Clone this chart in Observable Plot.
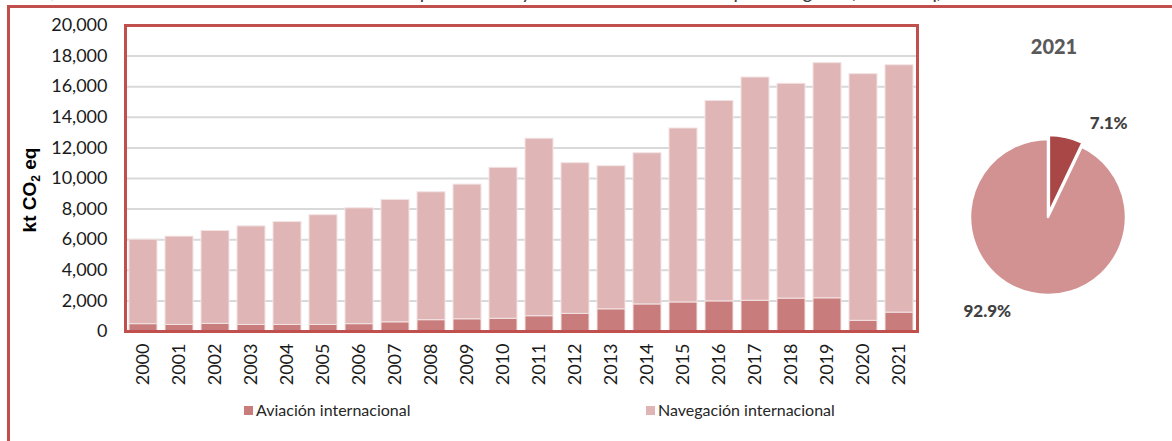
<!DOCTYPE html>
<html><head><meta charset="utf-8">
<script src="https://cdn.jsdelivr.net/npm/d3@7"></script>
<script src="https://cdn.jsdelivr.net/npm/@observablehq/plot@0.6"></script>
<style>
body{margin:0;background:#fff;}
#wrap{position:relative;width:1172px;height:441px;overflow:hidden;font-family:Lato,sans-serif;}
#outer{position:absolute;left:7px;top:5px;width:1300px;height:600px;border-left:3px solid #c0504d;border-top:3px solid #c0504d;}
#title{position:absolute;left:20px;top:-22px;font-style:italic;font-size:20.5px;line-height:24px;color:#404040;white-space:nowrap;}
#bar{position:absolute;left:0;top:0;}
#pie{position:absolute;left:920px;top:0;}
.leg{position:absolute;top:401px;font-size:16px;line-height:18px;color:#262626;display:flex;align-items:center;white-space:nowrap;}
.sw{width:9px;height:9px;margin-right:3px;}
</style></head><body>
<div id="wrap">
  <div id="title">Gráfico 12. Evolución de las emisiones del transporte aéreo y marítimo internacional por categoría (kt CO₂ eq)</div>
  <div id="outer"></div>
  <div id="bar"></div>
  <div id="pie"></div>
  <div id="legend"></div>
</div>
<script>
const years = ["2000","2001","2002","2003","2004","2005","2006","2007","2008","2009","2010","2011","2012","2013","2014","2015","2016","2017","2018","2019","2020","2021"];
const series = ["Aviación internacional", "Navegación internacional"];
const aviacion = [480, 430, 500, 430, 430, 430, 480, 600, 740, 800, 830, 1000, 1150, 1450, 1770, 1900, 1970, 2010, 2150, 2170, 700, 1235];
const navegacion = [5520, 5770, 6070, 6440, 6720, 7170, 7570, 8000, 8360, 8800, 9870, 11600, 9850, 9350, 9880, 11370, 13100, 14590, 14040, 15370, 16120, 16165];
const yTicks = [0, 2000, 4000, 6000, 8000, 10000, 12000, 14000, 16000, 18000, 20000];
const barColors = ["#c97c7c", "#dfb5b5"];
const pieColors = ["#a94646", "#d29292"];
const pieYear = "2021";

const rows = [];
years.forEach((y, i) => rows.push({year: y, serie: series[0], value: aviacion[i]}));
years.forEach((y, i) => rows.push({year: y, serie: series[1], value: navegacion[i]}));

const chart = Plot.plot({
  width: 930, height: 400,
  marginLeft: 125, marginRight: 13, marginTop: 25, marginBottom: 69,
  style: {fontFamily: "Lato, sans-serif", fontSize: "18px", color: "#1a1a1a", background: "transparent"},
  x: {domain: years, paddingInner: 0.22, paddingOuter: 0.11, label: null},
  y: {domain: [0, 20000], label: null},
  color: {domain: series, range: barColors},
  marks: [
    Plot.gridY(yTicks, {stroke: "#d9d9d9", strokeOpacity: 1, strokeWidth: 2}),
    Plot.barY(rows, {x: "year", y: "value", fill: "serie", stroke: "#f3e3e3", strokeWidth: 1}),
    Plot.axisY(yTicks, {tickSize: 0, tickPadding: 18, tickFormat: d3.format(","), label: null}),
    Plot.axisX({tickSize: 0, tickRotate: -90, tickPadding: 12, label: null}),
    Plot.frame({stroke: "#c0504d", strokeWidth: 3})
  ]
});
const svg = d3.select(chart);
const lab = svg.append("text")
  .attr("transform", "translate(36,190) rotate(-90)")
  .attr("text-anchor", "middle")
  .attr("font-family", "Liberation Sans, Arial, sans-serif")
  .attr("font-weight", "bold").attr("font-size", 19).attr("fill", "#000");
lab.append("tspan").text("kt CO");
lab.append("tspan").attr("font-size", 12).attr("dy", 4).text("2");
lab.append("tspan").attr("dy", -4).text(" eq");
document.getElementById("bar").appendChild(chart);

// Pie for the last year
const idx = years.indexOf(pieYear);
const pieData = [{serie: series[0], value: aviacion[idx]}, {serie: series[1], value: navegacion[idx]}];
const total = d3.sum(pieData, d => d.value);
const pieChart = Plot.plot({
  width: 252, height: 441, margin: 0,
  style: {background: "transparent"},
  marks: [
    () => {
      const g = d3.create("svg:g");
      const cx = 128, cy = 217, r = 78;
      const arcs = d3.pie().sort(null).value(d => d.value)(pieData);
      const arc = d3.arc().innerRadius(0).outerRadius(r);
      arcs.forEach((a, i) => {
        const mid = (a.startAngle + a.endAngle) / 2;
        const off = i === 0 ? 4 : 0;
        g.append("path")
          .attr("d", arc(a))
          .attr("transform", `translate(${cx + off * Math.sin(mid)},${cy - off * Math.cos(mid)})`)
          .attr("fill", pieColors[i])
          .attr("stroke", "#fff").attr("stroke-width", 2.5).attr("stroke-linejoin", "round");
        const la = mid + 0.35, lr = 112;
        g.append("text")
          .attr("x", cx + lr * Math.sin(la)).attr("y", cy - lr * Math.cos(la))
          .attr("dy", "0.35em").attr("text-anchor", "middle")
          .attr("font-family", "Lato, sans-serif").attr("font-weight", "900").attr("font-size", 17)
          .attr("fill", "#404040")
          .text(d3.format(".1f")(a.data.value / total * 100) + "%");
      });
      g.append("text").attr("x", 134).attr("y", 47).attr("dy", "0.35em").attr("text-anchor", "middle")
        .attr("font-family", "Lato, sans-serif").attr("font-weight", "900").attr("font-size", 20)
        .attr("fill", "#595959").text(pieYear);
      return g.node();
    }
  ]
});
document.getElementById("pie").appendChild(pieChart);

// Legend
const legendX = [244, 646];
const legend = document.getElementById("legend");
series.forEach((s, i) => {
  const d = document.createElement("div");
  d.className = "leg";
  d.style.left = legendX[i] + "px";
  d.innerHTML = `<div class="sw" style="background:${barColors[i]}"></div><span>${s}</span>`;
  legend.appendChild(d);
});
</script>
</body></html>
